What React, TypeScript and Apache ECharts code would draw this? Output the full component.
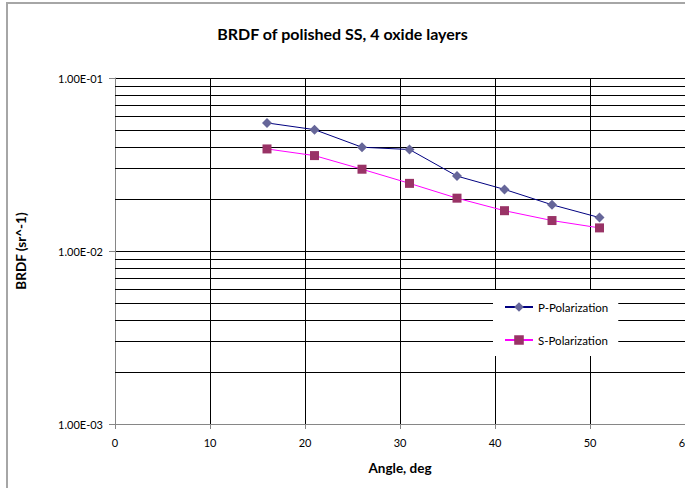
import React, { useEffect, useRef } from "react";
import * as echarts from "echarts";

const angles = [16, 21, 26, 31, 36, 41, 46, 51];
const pPolarization = [0.055, 0.0503, 0.0398, 0.0386, 0.0271, 0.0227, 0.0185, 0.0156];
const sPolarization = [0.0389, 0.0356, 0.0297, 0.0246, 0.0202, 0.0171, 0.0150, 0.0136];
const minorGridValues = [
  0.002, 0.003, 0.004, 0.005, 0.006, 0.007, 0.008, 0.009,
  0.02, 0.03, 0.04, 0.05, 0.06, 0.07, 0.08, 0.09,
];
const xTicks = { min: 0, max: 60, interval: 10 };
const yRange = { min: 0.001, max: 0.1 };

const FONT = "Lato";

function sci(v: number): string {
  const [m, e] = v.toExponential(2).split("e");
  const n = parseInt(e, 10);
  const sign = n < 0 ? "-" : "+";
  const abs = Math.abs(n);
  return `${m.toUpperCase()}E${sign}${abs < 10 ? "0" + abs : abs}`;
}

export default function App() {
  const ref = useRef<HTMLDivElement>(null);
  useEffect(() => {
    if (!ref.current) return;
    const chart = echarts.init(ref.current, undefined, { renderer: "svg" });
    chart.setOption({
      animation: false,
      backgroundColor: "#ffffff",
      textStyle: { fontFamily: FONT },
      title: {
        text: "BRDF of polished SS, 4 oxide layers",
        left: "center",
        top: 20,
        textStyle: { fontFamily: FONT, fontSize: 16, fontWeight: "bold", color: "#000" },
      },
      graphic: [
        {
          type: "rect",
          shape: { x: 7, y: 3, width: 700, height: 500 },
          style: { fill: "none", stroke: "#a6a6a6", lineWidth: 2 },
          silent: true,
        },
      ],
      grid: {
        left: 115,
        top: 78,
        width: 570,
        height: 346,
        containLabel: false,
        outerBoundsMode: "none",
      },
      legend: {
        orient: "vertical",
        left: 493,
        top: 290,
        z: 10,
        padding: [11, 10, 10, 11],
        itemGap: 21,
        itemWidth: 28,
        itemHeight: 12,
        backgroundColor: "#ffffff",
        data: ["P-Polarization", "S-Polarization"],
        textStyle: { fontFamily: FONT, fontSize: 11.5, color: "#000" },
      },
      xAxis: {
        type: "value",
        min: xTicks.min,
        max: xTicks.max,
        interval: xTicks.interval,
        name: "Angle, deg",
        nameLocation: "middle",
        nameGap: 37,
        nameTextStyle: { fontFamily: FONT, fontSize: 13.5, fontWeight: "bold", color: "#000" },
        axisLine: { show: true, lineStyle: { color: "#868686", width: 1 } },
        axisTick: { show: true, length: 5, lineStyle: { color: "#868686" } },
        axisLabel: { margin: 13, fontFamily: FONT, fontSize: 11, color: "#000" },
        splitLine: { show: true, lineStyle: { color: "#000", width: 1 } },
      },
      yAxis: {
        type: "log",
        logBase: 10,
        min: yRange.min,
        max: yRange.max,
        name: "BRDF (sr^-1)",
        nameLocation: "middle",
        nameGap: 87,
        nameTextStyle: { fontFamily: FONT, fontSize: 13.5, fontWeight: "bold", color: "#000" },
        axisLine: { show: true, lineStyle: { color: "#868686", width: 1 } },
        axisTick: { show: true, length: 6, lineStyle: { color: "#868686" } },
        axisLabel: { margin: 12, fontFamily: FONT, fontSize: 11, color: "#000", formatter: (v: number) => sci(v) },
        splitLine: { show: true, lineStyle: { color: "#000", width: 1 } },
      },
      series: [
        {
          name: "minor-grid",
          type: "line",
          data: [],
          silent: true,
          z: 1,
          markLine: {
            silent: true,
            z: 1,
            symbol: "none",
            precision: 6,
            label: { show: false },
            lineStyle: { color: "#000", width: 1, type: "solid" },
            data: minorGridValues.map((v) => ({ yAxis: v })),
          },
        },
        {
          name: "P-Polarization",
          type: "line",
          data: angles.map((a, i) => [a, pPolarization[i]]),
          symbol: "diamond",
          symbolSize: 10,
          lineStyle: { color: "#000080", width: 1 },
          itemStyle: { color: "#666699" },
          z: 3,
        },
        {
          name: "S-Polarization",
          type: "line",
          data: angles.map((a, i) => [a, sPolarization[i]]),
          symbol: "rect",
          symbolSize: 9,
          lineStyle: { color: "#ff00ff", width: 1 },
          itemStyle: { color: "#993366" },
          z: 3,
        },
      ],
    });
    return () => chart.dispose();
  }, []);
  return (
    <div
      ref={ref}
      style={{ position: "absolute", left: 0, top: 0, width: 685, height: 488, background: "#fff" }}
    />
  );
}
